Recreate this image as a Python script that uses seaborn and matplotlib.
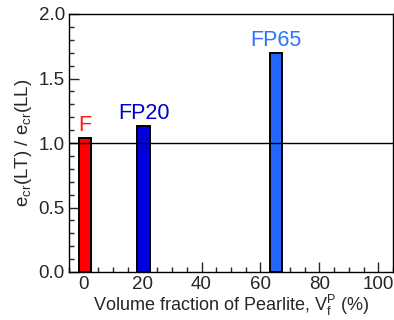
import matplotlib
matplotlib.use("Agg")
import matplotlib.pyplot as plt
import seaborn as sns
import pandas as pd
from matplotlib.ticker import MultipleLocator

names = ["F", "FP20", "FP65"]
vf_pearlite = [0.5, 20.3, 65.2]
ratio = [1.036, 1.133, 1.70]
bar_colors = ["#ff0000", "#0000dd", "#2266ff"]
text_colors = ["#ff1a1a", "#0000cc", "#2f74ff"]

sns.set_style("ticks")
plt.rcParams["font.family"] = ["Liberation Sans", "DejaVu Sans"]
plt.rcParams["mathtext.fontset"] = "custom"
plt.rcParams["mathtext.rm"] = "Liberation Sans"
plt.rcParams["mathtext.it"] = "Liberation Sans"

df = pd.DataFrame({"vf": vf_pearlite, "ratio": ratio, "name": names})

fig = plt.figure(figsize=(3.94, 3.2), dpi=100)
ax = fig.add_axes([69/394, 1 - 272/320, (393-69)/394, (272-14)/320])

sns.barplot(data=df, x="vf", y="ratio", hue="name", palette=dict(zip(names, bar_colors)),
            native_scale=True, width=0.21, dodge=False, legend=False, saturation=1,
            edgecolor="black", linewidth=1.4, ax=ax, zorder=2)

ax.axhline(1.0, color="black", linewidth=1.0, zorder=3)

for x, y, n, c in zip(vf_pearlite, ratio, names, text_colors):
    ax.annotate(n, (x, y), xytext=(0, 1.5), textcoords="offset points",
                ha="center", va="bottom", color=c, fontsize=15.5)

ax.set_xlim(-5, 105)
ax.set_ylim(0, 2.0)
ax.xaxis.set_major_locator(MultipleLocator(20))
ax.xaxis.set_minor_locator(MultipleLocator(5))
ax.yaxis.set_major_locator(MultipleLocator(0.5))
ax.yaxis.set_minor_locator(MultipleLocator(0.1))
ax.yaxis.set_major_formatter(matplotlib.ticker.FormatStrFormatter("%.1f"))
ax.tick_params(which="major", direction="in", length=7, width=1.0, labelsize=13.5,
               top=False, right=False, pad=3)
ax.tick_params(which="minor", direction="in", length=3.5, width=1.0, top=False, right=False)
for s in ax.spines.values():
    s.set_linewidth(1.0)
    s.set_color("black")

ax.set_xlabel(r"Volume fraction of Pearlite, V$_\mathregular{f}^\mathregular{P}$ (%)", fontsize=13, labelpad=0)
ax.set_ylabel(r"e$_\mathregular{cr}$(LT) / e$_\mathregular{cr}$(LL)", fontsize=13.5, labelpad=3)

fig.savefig("out.png", dpi=100)
